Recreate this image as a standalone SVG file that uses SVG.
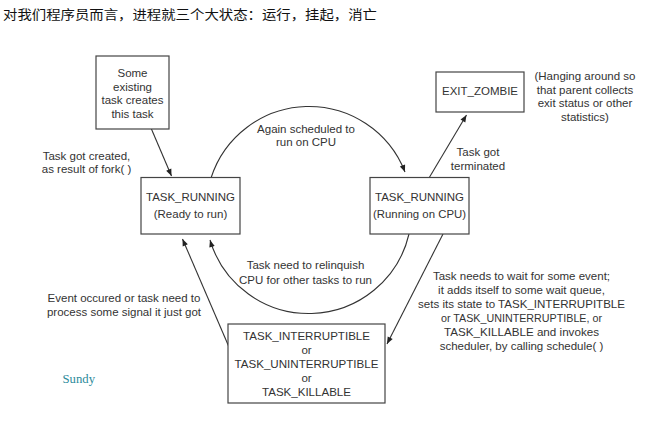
<svg xmlns="http://www.w3.org/2000/svg" width="660" height="422" viewBox="0 0 660 422">
<style>
.t{font-family:"Liberation Sans",Arial,sans-serif;font-size:11.5px;fill:#333;text-anchor:middle}
.box{fill:#fff;stroke:#444;stroke-width:1.2}
.c{fill:none;stroke:#333;stroke-width:1.1}
</style>
<defs>
<marker id="ah" viewBox="0 0 10 10" refX="10" refY="5" markerWidth="8" markerHeight="7" markerUnits="userSpaceOnUse" orient="auto">
<path d="M0,1 L10,5 L0,9 Z" fill="#222"/>
</marker>
</defs>
<rect width="660" height="422" fill="#fff"/>
<text x="3" y="19" font-family="'Noto Sans CJK SC',sans-serif" font-size="13" fill="#111" textLength="374" lengthAdjust="spacingAndGlyphs">对我们程序员而言，进程就三个大状态：运行，挂起，消亡</text>

<g id="connectors">
<path class="c" d="M151,128 L171.5,176" marker-end="url(#ah)"/>
<path class="c" d="M211,178 A103,103 0 0 1 405,172" marker-end="url(#ah)"/>
<path class="c" d="M429,178 L466.5,115" marker-end="url(#ah)"/>
<path class="c" d="M409,234 A103,103 0 0 1 210,240" marker-end="url(#ah)"/>
<path class="c" d="M443,234 L387,344" marker-end="url(#ah)"/>
<path class="c" d="M229,347 L182.5,239" marker-end="url(#ah)"/>
</g>

<g id="creator">
<rect class="box" x="96" y="56" width="73" height="73"/>
<text class="t" x="132.5" y="77">Some</text>
<text class="t" x="132.5" y="90.5">existing</text>
<text class="t" x="132.5" y="104">task creates</text>
<text class="t" x="132.5" y="117.5">this task</text>
</g>

<g id="ready">
<rect class="box" x="141" y="177.5" width="99" height="56.5"/>
<text class="t" x="190.5" y="201" textLength="89" lengthAdjust="spacingAndGlyphs">TASK_RUNNING</text>
<text class="t" x="190.5" y="218">(Ready to run)</text>
</g>

<g id="running">
<rect class="box" x="370" y="177.5" width="99" height="56.5"/>
<text class="t" x="419.5" y="201" textLength="89" lengthAdjust="spacingAndGlyphs">TASK_RUNNING</text>
<text class="t" x="419.5" y="218" textLength="93" lengthAdjust="spacingAndGlyphs">(Running on CPU)</text>
</g>

<g id="zombie">
<rect class="box" x="436" y="72" width="88" height="40"/>
<text class="t" x="480" y="95" textLength="76" lengthAdjust="spacingAndGlyphs">EXIT_ZOMBIE</text>
</g>

<g id="sleeping">
<rect class="box" x="228" y="324" width="157" height="79"/>
<text class="t" x="306.5" y="340" textLength="127" lengthAdjust="spacingAndGlyphs">TASK_INTERRUPTIBLE</text>
<text class="t" x="306.5" y="353.5">or</text>
<text class="t" x="306.5" y="367.5" textLength="144" lengthAdjust="spacingAndGlyphs">TASK_UNINTERRUPTIBLE</text>
<text class="t" x="306.5" y="381.5">or</text>
<text class="t" x="306.5" y="395.5" textLength="89" lengthAdjust="spacingAndGlyphs">TASK_KILLABLE</text>
</g>

<g id="labels">
<text class="t" x="86.5" y="160">Task got created,</text>
<text class="t" x="86.5" y="172.5">as result of fork( )</text>
<text class="t" x="306" y="133">Again scheduled to</text>
<text class="t" x="306" y="146">run on CPU</text>
<text class="t" x="478" y="156">Task got</text>
<text class="t" x="478" y="170">terminated</text>
<text class="t" x="585" y="79.5">(Hanging around so</text>
<text class="t" x="585" y="93.5">that parent collects</text>
<text class="t" x="585" y="107">exit status or other</text>
<text class="t" x="585" y="121">statistics)</text>
<text class="t" x="305.5" y="269">Task need to relinquish</text>
<text class="t" x="305.5" y="284">CPU for other tasks to run</text>
<text class="t" x="124" y="302">Event occured or task need to</text>
<text class="t" x="124" y="315.5">process some signal it just got</text>
<text class="t" x="521.5" y="280">Task needs to wait for some event;</text>
<text class="t" x="521.5" y="294">it adds itself to some wait queue,</text>
<text class="t" x="521.5" y="307.5" textLength="207" lengthAdjust="spacingAndGlyphs">sets its state to TASK_INTERRUPITBLE</text>
<text class="t" x="521.5" y="321.5" textLength="161" lengthAdjust="spacingAndGlyphs">or TASK_UNINTERRUPTIBLE, or</text>
<text class="t" x="521.5" y="335.5" textLength="155" lengthAdjust="spacingAndGlyphs">TASK_KILLABLE and invokes</text>
<text class="t" x="521.5" y="350">scheduler, by calling schedule( )</text>
<text x="62.5" y="383" font-family="'Liberation Serif','Times New Roman',serif" font-size="11.5" fill="#2b8a9b" textLength="32.5" lengthAdjust="spacingAndGlyphs">Sundy</text>
</g>
</svg>
